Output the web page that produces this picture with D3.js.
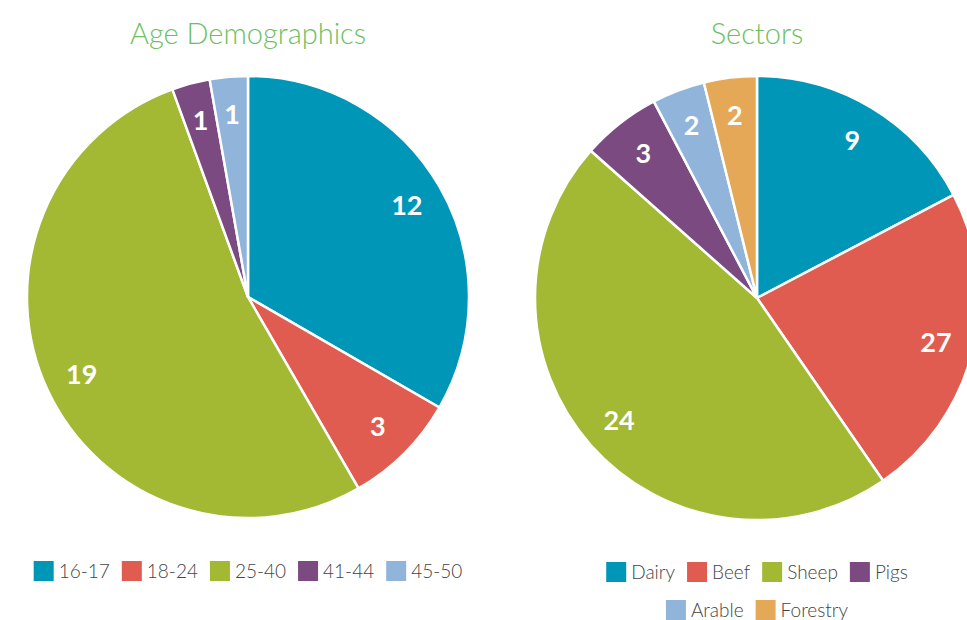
<!DOCTYPE html>
<html>
<head>
<meta charset="utf-8">
<script src="https://cdn.jsdelivr.net/npm/d3@7"></script>
<style>
  body { margin: 0; background: #fff; }
  text { font-family: Lato, "Open Sans", sans-serif; }
</style>
</head>
<body>
<div id="chart-container"></div>
<script>
// Age pie
const ageGroups = ["16-17", "18-24", "25-40", "41-44", "45-50"];
const ageValues = [12, 3, 19, 1, 1];
const ageLabels = ["12", "3", "19", "1", "1"];

// Sector pie (slice sizes, printed labels as shown)
const sectors = ["Dairy", "Beef", "Sheep", "Pigs", "Arable", "Forestry"];
const sectorValues = [9, 12, 24, 3, 2, 2];
const sectorLabels = ["9", "27", "24", "3", "2", "2"];

const colors = ["#0096b7", "#e05c50", "#a3b833", "#7a4a80", "#91b4da", "#e5a857"];

const width = 967, height = 620;

const svg = d3.select("#chart-container")
    .append("svg")
    .attr("width", width)
    .attr("height", height);

function drawPie(opts) {
    const { title, names, values, labels, cx, cy, radius, legendRows, legendY } = opts;
    const color = d3.scaleOrdinal().domain(names).range(colors);
    const data = names.map((n, i) => ({ name: n, value: values[i], label: labels[i] }));

    const pie = d3.pie().sort(null).value(d => d.value);
    const arc = d3.arc().innerRadius(0).outerRadius(radius);
    const labelArc = d3.arc().innerRadius(radius * 0.83).outerRadius(radius * 0.83);

    svg.append("text")
        .attr("x", cx)
        .attr("y", 44)
        .attr("text-anchor", "middle")
        .attr("fill", "#6cbf5f")
        .attr("font-size", 29)
        .attr("font-weight", 300)
        .text(title);

    const g = svg.append("g").attr("transform", `translate(${cx},${cy})`);

    g.selectAll("path")
        .data(pie(data))
        .enter()
        .append("path")
        .attr("d", arc)
        .attr("fill", d => color(d.data.name))
        .attr("stroke", "white")
        .attr("stroke-width", 2.5);

    g.selectAll("text")
        .data(pie(data))
        .enter()
        .append("text")
        .attr("transform", d => `translate(${labelArc.centroid(d)})`)
        .attr("dy", "0.36em")
        .attr("text-anchor", "middle")
        .attr("fill", "white")
        .attr("font-size", 27)
        .attr("font-weight", 700)
        .text(d => d.data.label);

    // Legend, rows centred under the pie
    legendRows.forEach((row, r) => {
        const lg = svg.append("g");
        let x = 0;
        row.forEach(name => {
            const item = lg.append("g").attr("transform", `translate(${x},0)`);
            item.append("rect")
                .attr("x", 0)
                .attr("y", -10)
                .attr("width", 20)
                .attr("height", 20)
                .attr("fill", color(name));
            const t = item.append("text")
                .attr("x", 25)
                .attr("y", 0)
                .attr("dy", "0.35em")
                .attr("fill", "#444")
                .attr("font-size", 19)
                .attr("font-weight", 300)
                .text(name);
            x += 25 + t.node().getComputedTextLength() + 12;
        });
        const w = x - 12;
        lg.attr("transform", `translate(${cx - w / 2},${legendY + r * 38})`);
    });
}

drawPie({
    title: "Age Demographics",
    names: ageGroups,
    values: ageValues,
    labels: ageLabels,
    cx: 248, cy: 297, radius: 221,
    legendRows: [ageGroups],
    legendY: 571
});

drawPie({
    title: "Sectors",
    names: sectors,
    values: sectorValues,
    labels: sectorLabels,
    cx: 757, cy: 298, radius: 222,
    legendRows: [sectors.slice(0, 4), sectors.slice(4)],
    legendY: 572
});
</script>
</body>
</html>
